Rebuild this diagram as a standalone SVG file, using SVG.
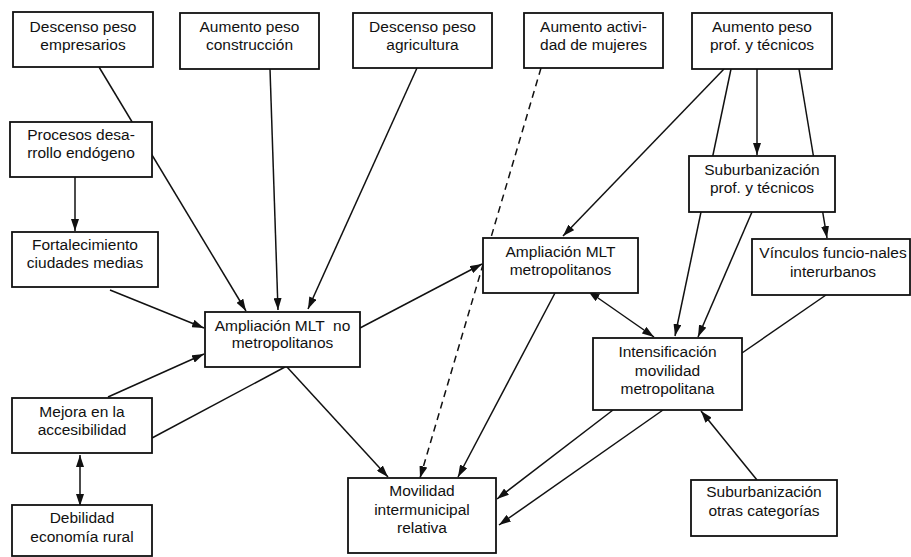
<svg xmlns="http://www.w3.org/2000/svg" width="911" height="557" viewBox="0 0 911 557">
<style>
.box{fill:#fff;stroke:#111;stroke-width:1.8}
.t{font-family:"Liberation Sans",Arial,sans-serif;font-size:15.5px;fill:#111;text-anchor:middle;white-space:pre}
.c{stroke:#111;stroke-width:1.5;fill:none}
.a{marker-end:url(#ah)}
.d{marker-start:url(#ah);marker-end:url(#ah)}
.dash{stroke-dasharray:7 5}
</style>
<defs>
<marker id="ah" viewBox="0 0 12 8" refX="12" refY="4" markerWidth="12" markerHeight="8" markerUnits="userSpaceOnUse" orient="auto-start-reverse">
<path d="M0,0 L12,4 L0,8 z" fill="#111"/>
</marker>
</defs>
<rect width="911" height="557" fill="#fff"/>
<g id="connectors">
<line class="c a" x1="99" y1="67" x2="246" y2="311"/>
<line class="c a" x1="270" y1="69" x2="278" y2="310"/>
<line class="c a" x1="417" y1="68" x2="308" y2="309"/>
<line class="c a" x1="75" y1="177" x2="75" y2="231"/>
<line class="c a" x1="110" y1="290" x2="204" y2="328"/>
<line class="c a" x1="108" y1="397" x2="204" y2="354"/>
<line class="c" x1="152" y1="438" x2="285" y2="367"/>
<line class="c a" x1="287" y1="367" x2="388" y2="477"/>
<line class="c a" x1="360" y1="328" x2="482" y2="264"/>
<line class="c a dash" x1="541" y1="68" x2="420" y2="478"/>
<line class="c a" x1="724" y1="69" x2="563" y2="236"/>
<line class="c a" x1="757" y1="69" x2="757" y2="155"/>
<line class="c a" x1="731" y1="69" x2="675" y2="336"/>
<line class="c a" x1="799" y1="69" x2="827" y2="238"/>
<line class="c a" x1="752" y1="212" x2="698" y2="337"/>
<line class="c d" x1="588" y1="291" x2="654" y2="337"/>
<line class="c a" x1="555" y1="293" x2="458" y2="477"/>
<line class="c" x1="826" y1="295" x2="742" y2="353"/>
<line class="c a" x1="613" y1="410" x2="497" y2="499"/>
<line class="c a" x1="663" y1="410" x2="499" y2="525"/>
<line class="c a" x1="757" y1="480" x2="701" y2="411"/>
<line class="c d" x1="80" y1="455" x2="80" y2="506"/>
</g>
<g id="n_empresarios"><rect class="box" x="13" y="12" width="140" height="55"/><text class="t" x="83" y="32">Descenso peso</text><text class="t" x="83" y="50">empresarios</text></g>
<g id="n_construccion"><rect class="box" x="180" y="13" width="139" height="56"/><text class="t" x="249.5" y="32">Aumento peso</text><text class="t" x="249.5" y="50">construcción</text></g>
<g id="n_agricultura"><rect class="box" x="353" y="13" width="139" height="55"/><text class="t" x="422.5" y="32">Descenso peso</text><text class="t" x="422.5" y="50">agricultura</text></g>
<g id="n_mujeres"><rect class="box" x="524" y="13" width="139" height="55"/><text class="t" x="593.5" y="32">Aumento activi-</text><text class="t" x="593.5" y="50">dad de mujeres</text></g>
<g id="n_prof"><rect class="box" x="692" y="13" width="140" height="56"/><text class="t" x="762" y="32">Aumento peso</text><text class="t" x="762" y="50">prof. y técnicos</text></g>
<g id="n_procesos"><rect class="box" x="10" y="122" width="142" height="55"/><text class="t" x="81" y="140">Procesos desa-</text><text class="t" x="81" y="158">rrollo endógeno</text></g>
<g id="n_suburb_prof"><rect class="box" x="689" y="156" width="146" height="56"/><text class="t" x="762" y="175">Suburbanización</text><text class="t" x="762" y="193">prof. y técnicos</text></g>
<g id="n_fortalecimiento"><rect class="box" x="12" y="232" width="146" height="55"/><text class="t" x="85" y="250">Fortalecimiento</text><text class="t" x="85" y="268">ciudades medias</text></g>
<g id="n_mlt_nometro"><rect class="box" x="205" y="312" width="155" height="55"/><text class="t" x="282.5" y="331">Ampliación MLT  no</text><text class="t" x="282.5" y="348">metropolitanos</text></g>
<g id="n_mlt_metro"><rect class="box" x="483" y="238" width="155" height="55"/><text class="t" x="560.5" y="257">Ampliación MLT</text><text class="t" x="560.5" y="275">metropolitanos</text></g>
<g id="n_vinculos"><rect class="box" x="752" y="239" width="158" height="56"/><text class="t" x="833" y="258">Vínculos funcio-nales</text><text class="t" x="833" y="277">interurbanos</text></g>
<g id="n_intensificacion"><rect class="box" x="593" y="338" width="149" height="72"/><text class="t" x="667.5" y="357">Intensificación</text><text class="t" x="667.5" y="376">movilidad</text><text class="t" x="667.5" y="394">metropolitana</text></g>
<g id="n_mejora"><rect class="box" x="12" y="398" width="140" height="55"/><text class="t" x="82" y="417">Mejora en la</text><text class="t" x="82" y="435">accesibilidad</text></g>
<g id="n_debilidad"><rect class="box" x="12" y="505" width="140" height="51"/><text class="t" x="82" y="523">Debilidad</text><text class="t" x="82" y="542">economía rural</text></g>
<g id="n_movilidad"><rect class="box" x="348" y="478" width="148" height="75"/><text class="t" x="422" y="496">Movilidad</text><text class="t" x="422" y="515">intermunicipal</text><text class="t" x="422" y="533">relativa</text></g>
<g id="n_suburb_otras"><rect class="box" x="691" y="480" width="146" height="56"/><text class="t" x="764" y="497">Suburbanización</text><text class="t" x="764" y="516">otras categorías</text></g>
</svg>
